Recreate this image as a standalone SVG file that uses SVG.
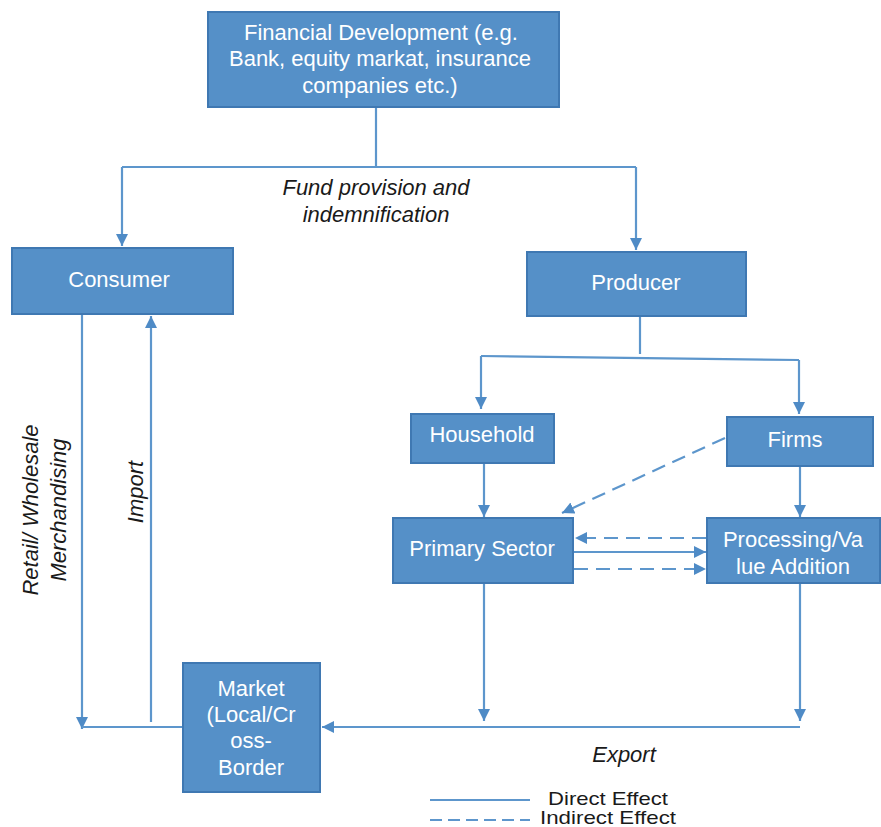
<svg xmlns="http://www.w3.org/2000/svg" width="881" height="827" viewBox="0 0 881 827">
<defs>
<marker id="ah" viewBox="0 0 10 10" refX="10" refY="5" markerWidth="12" markerHeight="12" markerUnits="userSpaceOnUse" orient="auto">
<path d="M0,0 L10,5 L0,10 z" fill="#4f8bc6"/>
</marker>
<style>
.box{fill:#5590c8;stroke:#3f78b2;stroke-width:2}
.bt{font-family:"Liberation Sans",Arial,sans-serif;font-size:22px;fill:#ffffff;text-anchor:middle}
.ln{fill:none;stroke:#5d96cc;stroke-width:2.2}
.ds{fill:none;stroke:#5d96cc;stroke-width:2.2;stroke-dasharray:14,8}
.it{font-family:"Liberation Sans",Arial,sans-serif;font-size:22px;font-style:italic;fill:#1a1a1a;text-anchor:middle}
.lg{font-family:"Liberation Sans",Arial,sans-serif;font-size:19px;fill:#1a1a1a}
</style>
</defs>
<rect width="881" height="827" fill="#ffffff"/>
<g id="connectors">
<path class="ln" d="M376,107 V167"/>
<path class="ln" d="M122,167 H636"/>
<path class="ln" d="M122,167 V246" marker-end="url(#ah)"/>
<path class="ln" d="M636,167 V250" marker-end="url(#ah)"/>
<path class="ln" d="M82,314 V729" marker-end="url(#ah)"/>
<path class="ln" d="M82,727 H183"/>
<path class="ln" d="M151,722 V316" marker-end="url(#ah)"/>
<path class="ln" d="M640,316 V354"/>
<path class="ln" d="M481,356 L799,360"/>
<path class="ln" d="M481,356 V409" marker-end="url(#ah)"/>
<path class="ln" d="M799,360 V414" marker-end="url(#ah)"/>
<path class="ln" d="M484,464 V517" marker-end="url(#ah)"/>
<path class="ln" d="M800,467 V517" marker-end="url(#ah)"/>
<path class="ds" d="M725,438 L562,513" marker-end="url(#ah)"/>
<path class="ds" d="M706,538 H575" marker-end="url(#ah)"/>
<path class="ln" d="M574,552 H706" marker-end="url(#ah)"/>
<path class="ds" d="M574,569 H706" marker-end="url(#ah)"/>
<path class="ln" d="M484,584 V721" marker-end="url(#ah)"/>
<path class="ln" d="M800,584 V721" marker-end="url(#ah)"/>
<path class="ln" d="M800,727 H322" marker-end="url(#ah)"/>
<path class="ln" d="M430,800 H530"/>
<path class="ds" d="M430,820 H530" style="stroke-dasharray:12,6"/>
</g>
<g id="financial">
<rect class="box" x="208" y="12" width="351" height="95"/>
<text class="bt" x="381" y="40">Financial Development (e.g.</text>
<text class="bt" x="380" y="66">Bank, equity markat, insurance</text>
<text class="bt" x="380" y="93">companies etc.)</text>
</g>
<g id="consumer">
<rect class="box" x="12" y="248" width="221" height="66"/>
<text class="bt" x="119" y="287">Consumer</text>
</g>
<g id="producer">
<rect class="box" x="527" y="252" width="219" height="64"/>
<text class="bt" x="636" y="290">Producer</text>
</g>
<g id="household">
<rect class="box" x="411" y="414" width="143" height="49"/>
<text class="bt" x="482" y="442">Household</text>
</g>
<g id="firms">
<rect class="box" x="727" y="417" width="146" height="49"/>
<text class="bt" x="795" y="447">Firms</text>
</g>
<g id="primary">
<rect class="box" x="393" y="518" width="180" height="65"/>
<text class="bt" x="482" y="556">Primary Sector</text>
</g>
<g id="processing">
<rect class="box" x="707" y="518" width="173" height="65"/>
<text class="bt" x="793" y="547">Processing/Va</text>
<text class="bt" x="793" y="574">lue Addition</text>
</g>
<g id="market">
<rect class="box" x="183" y="663" width="137" height="129"/>
<text class="bt" x="251" y="696">Market</text>
<text class="bt" x="251" y="722">(Local/Cr</text>
<text class="bt" x="251" y="748">oss-</text>
<text class="bt" x="251" y="775">Border</text>
</g>
<g id="labels">
<text class="it" x="376" y="195">Fund provision and</text>
<text class="it" x="376" y="222">indemnification</text>
<text class="it" transform="translate(38,510) rotate(-90)">Retail/ Wholesale</text>
<text class="it" transform="translate(66,510) rotate(-90)">Merchandising</text>
<text class="it" transform="translate(143,492) rotate(-90)">Import</text>
<text class="it" x="624" y="762">Export</text>
<text class="lg" x="548" y="805" textLength="120" lengthAdjust="spacingAndGlyphs">Direct Effect</text>
<text class="lg" x="540" y="824" textLength="136" lengthAdjust="spacingAndGlyphs">Indirect Effect</text>
</g>
</svg>
